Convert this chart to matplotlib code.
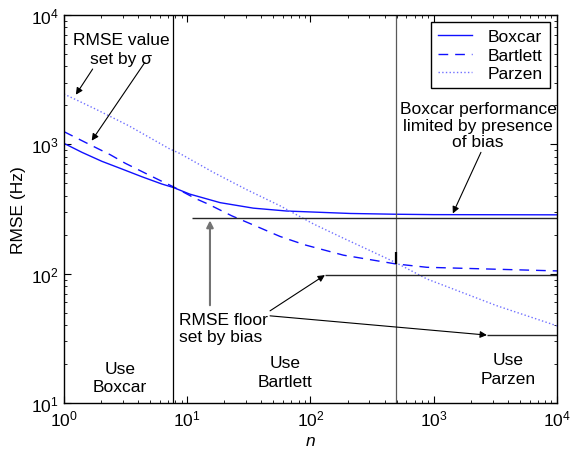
import numpy as np
import matplotlib.pyplot as plt

plt.rcParams['font.family'] = ['Liberation Sans', 'DejaVu Sans']
plt.rcParams['mathtext.fontset'] = 'custom'
plt.rcParams['mathtext.rm'] = 'Liberation Sans'
plt.rcParams['mathtext.it'] = 'Liberation Sans:italic'

# RMSE (Hz) vs number of averaged samples n for the three windows
n_box  = [1, 1.4, 2.03, 2.96, 4.3, 6.24, 7.7, 10.5, 18.5, 34.4, 64, 120, 210, 490, 1000, 10000]
boxcar = [1018, 867, 739, 644, 561, 493, 464, 412, 354, 321, 305, 298, 292, 288, 286, 285]

n_bart   = [1, 1.69, 2.38, 3.15, 4.72, 6.24, 7.7, 11.6, 14.8, 23, 36.6, 56.6, 90, 185, 490, 880, 10000]
bartlett = [1253, 975, 830, 713, 589, 517, 470, 382, 345, 280, 232, 194, 167, 139, 119, 112, 105]

n_parz = [1, 1.8, 3.35, 7.08, 8.7, 16.3, 30.4, 56.6, 106, 185, 286, 490, 880, 3250, 10000]
parzen = [2450, 1875, 1393, 930, 850, 607, 446, 335, 242, 188, 155, 122, 91, 56.5, 39.5]

# window switch points and the bias floors (level, start n)
switch_n = [7.7, 490]
floor_lvl = [269, 97.5, 33.5]
floor_start = [11, 131, 2700]
n_max = 10000

fs = 12.5

fig = plt.figure(figsize=(5.76, 4.56), dpi=100)
ax = fig.add_axes([0.111, 0.114, 0.856, 0.851])

ax.plot(n_box, boxcar, '-', color='#1010ff', lw=1.0, label='Boxcar')
ax.plot(n_bart, bartlett, '--', color='#1010ff', lw=1.0, dashes=(7, 5), label='Bartlett')
ax.plot(n_parz, parzen, ':', color='#7070ff', lw=1.0, label='Parzen')

ax.set_xscale('log')
ax.set_yscale('log')
ax.set_xlim(1, 1e4)
ax.set_ylim(10, 1e4)

# region boundaries
ax.axvline(switch_n[0], color='k', lw=0.9)
ax.axvline(switch_n[1], color='0.35', lw=0.9)
ax.vlines(switch_n[1], bartlett[14], 147, color='k', lw=1.6)

# bias floors
for lvl, st in zip(floor_lvl, floor_start):
    ax.hlines(lvl, st, n_max, color='0.15', lw=1.0)

arr = dict(arrowstyle='-|>', color='k', lw=0.8, mutation_scale=10, shrinkA=0, shrinkB=0)

ax.text(2.9, 5460, 'RMSE value\nset by σ', ha='center', va='center',
        fontsize=fs, linespacing=1.3)
ax.annotate('', xy=(1.25, 2420), xytext=(1.71, 3820), arrowprops=arr)
ax.annotate('', xy=(1.68, 1067), xytext=(4.54, 4305), arrowprops=arr)

ax.text(2291, 1410, 'Boxcar performance\nlimited by presence\nof bias', ha='center',
        va='center', fontsize=fs, linespacing=1.1)
ax.annotate('', xy=(1429, 292), xytext=(2416, 867), arrowprops=arr)

ax.text(8.6, 38, 'RMSE floor\nset by bias', ha='left', va='center', fontsize=fs,
        linespacing=1.2)
ax.annotate('', xy=(15.3, 258), xytext=(15.3, 57),
            arrowprops=dict(arr, color='0.45', lw=1.5))
ax.annotate('', xy=(floor_start[1], floor_lvl[1]), xytext=(47, 51.6), arrowprops=arr)
ax.annotate('', xy=(floor_start[2], floor_lvl[2]), xytext=(47, 47.2), arrowprops=arr)

ax.text(2.85, 15.8, 'Use\nBoxcar', ha='center', va='center', fontsize=fs, linespacing=1.3)
ax.text(62, 17.3, 'Use\nBartlett', ha='center', va='center', fontsize=fs, linespacing=1.3)
ax.text(4000, 18.3, 'Use\nParzen', ha='center', va='center', fontsize=fs, linespacing=1.3)

ax.set_xlabel('$n$', fontsize=fs, labelpad=3)
ax.set_ylabel('RMSE (Hz)', fontsize=fs, labelpad=4)
ax.tick_params(which='both', direction='in', top=True, right=True, labelsize=fs)
ax.tick_params(axis='x', which='major', pad=4)
ax.tick_params(which='major', length=5, width=0.8)
ax.tick_params(which='minor', length=2.5, width=0.6)
for s in ax.spines.values():
    s.set_linewidth(1.0)

leg = ax.legend(loc='upper right', fontsize=fs, fancybox=False, edgecolor='k',
                framealpha=1, borderaxespad=0.4, handlelength=2.0, handletextpad=0.9,
                labelspacing=0.2)
leg.get_frame().set_linewidth(1.0)

fig.savefig('out.png', dpi=100)
